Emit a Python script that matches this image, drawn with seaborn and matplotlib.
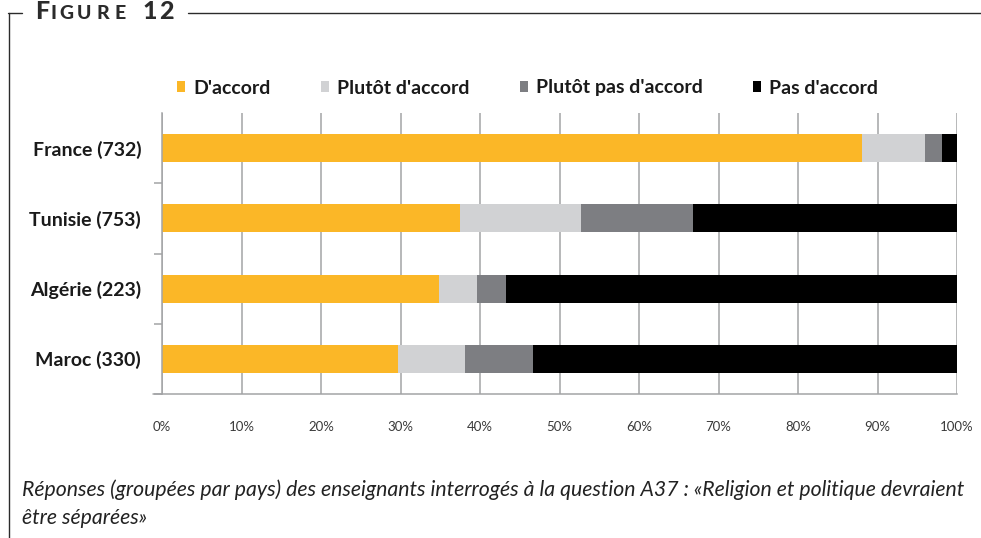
import matplotlib
matplotlib.use("Agg")
import matplotlib.pyplot as plt
from matplotlib.patches import Patch
from matplotlib.lines import Line2D
from matplotlib.ticker import FixedLocator, FuncFormatter
import numpy as np
import pandas as pd
import seaborn as sns

# Responses per country (percent of teachers), question A37
countries = ["France (732)", "Tunisie (753)", "Algérie (223)", "Maroc (330)"]
d_accord = [88.1, 37.5, 34.9, 29.7]
plutot_accord = [7.9, 15.2, 4.7, 8.4]
plutot_pas_accord = [2.1, 14.1, 3.7, 8.6]
pas_accord = [1.9, 33.2, 56.7, 53.3]

series_names = ["D'accord", "Plutôt d'accord", "Plutôt pas d'accord", "Pas d'accord"]
series_colors = ["#FBB727", "#D1D2D4", "#7D7E82", "#000000"]
x_ticks = [0, 10, 20, 30, 40, 50, 60, 70, 80, 90, 100]

caption_1 = ("Réponses (groupées par pays) des enseignants interrogés à la question A37 : "
             "«Religion et politique devraient")
caption_2 = "être séparées»"

sns.set_theme(style="white")
plt.rcParams["font.family"] = ["Lato", "DejaVu Sans"]

df = pd.DataFrame({
    "pays": countries,
    series_names[0]: d_accord,
    series_names[1]: plutot_accord,
    series_names[2]: plutot_pas_accord,
    series_names[3]: pas_accord,
})
cum = df[series_names].cumsum(axis=1)

W, H = 981, 538
fig = plt.figure(figsize=(W / 100, H / 100), dpi=100)
ax = fig.add_axes([162 / W, 1 - 394 / H, 795 / W, (394 - 113) / H])

grid_col = "#A3A4A6"
ax.set_axisbelow(True)
ax.xaxis.grid(True, color=grid_col, linewidth=1.1)

# stacked bars: draw cumulative totals from the outermost segment inward
for name, col in reversed(list(zip(series_names, series_colors))):
    sns.barplot(x=cum[name], y=df["pays"], orient="h", color=col, width=0.4,
                errorbar=None, saturation=1, linewidth=0, ax=ax, zorder=3)

ax.set_xlim(0, 100)
ax.set_ylim(len(countries) - 0.5, -0.5)
ax.set_xlabel("")
ax.set_ylabel("")

ax.xaxis.set_major_locator(FixedLocator(x_ticks))
ax.xaxis.set_major_formatter(FuncFormatter(lambda v, p: f"{int(round(v))}%"))
ax.tick_params(axis="x", which="major", direction="out", length=4.5, width=1.1,
               color=grid_col, pad=15, labelsize=9.5, labelcolor="#3a3a3a")

# category labels on minor ticks, boundary ticks on major ticks
ax.yaxis.set_major_locator(FixedLocator(np.arange(0.5, len(countries), 1.0)))
ax.yaxis.set_major_formatter(FuncFormatter(lambda v, p: ""))
ax.yaxis.set_minor_locator(FixedLocator(np.arange(len(countries))))
ax.set_yticklabels(countries, minor=True)
ax.tick_params(axis="y", which="major", direction="out", length=6, width=1.1,
               color=grid_col, left=True)
ax.tick_params(axis="y", which="minor", length=0, pad=15, labelsize=14,
               labelcolor="#1a1a1a")
for t in ax.get_yticklabels(minor=True):
    t.set_fontweight("bold")

for s in ["top", "right"]:
    ax.spines[s].set_visible(False)
for s in ["left", "bottom"]:
    ax.spines[s].set_color(grid_col)
    ax.spines[s].set_linewidth(1.1)
    ax.spines[s].set_zorder(4)
# bottom boundary tick of the category axis
ax.plot([-0.011, 0], [len(countries) - 0.5] * 2, transform=ax.get_yaxis_transform(),
        color=grid_col, linewidth=1.1, clip_on=False)

handles = [Patch(facecolor=c, edgecolor="none", label=n)
           for n, c in zip(series_names, series_colors)]
leg = fig.legend(handles=handles, loc="center left",
                 bbox_to_anchor=(177 / W, 1 - 88 / H), ncol=4, frameon=False,
                 handlelength=0.42, handleheight=0.55, handletextpad=0.4,
                 columnspacing=2.6, borderaxespad=0, borderpad=0,
                 prop={"weight": "bold", "size": 14})
for t in leg.get_texts():
    t.set_color("#1a1a1a")

# caption
fig.text(22 / W, 1 - 496 / H, caption_1, fontsize=15.3, style="italic",
         color="#222222", va="baseline", ha="left")
fig.text(22 / W, 1 - 524 / H, caption_2, fontsize=15.3, style="italic",
         color="#222222", va="baseline", ha="left")

# frame title, spaced small caps
frame_col = "#2b2b2b"
title_chars = [("F", 35, 18), ("I", 50, 14), ("G", 59, 14), ("U", 77, 14),
               ("R", 96, 14), ("E", 115, 14), ("1", 142, 18), ("2", 159, 18)]
for ch, px, size in title_chars:
    fig.text(px / W, 1 - 19 / H, ch, fontsize=size, fontweight="black",
             color=frame_col, ha="left", va="baseline")

# frame lines
fig.add_artist(Line2D([188 / W, 1.0], [1 - 13 / H, 1 - 13 / H],
                      transform=fig.transFigure, color=frame_col, linewidth=1.0))
fig.add_artist(Line2D([8 / W, 22 / W], [1 - 13 / H, 1 - 13 / H],
                      transform=fig.transFigure, color=frame_col, linewidth=1.0))
fig.add_artist(Line2D([9 / W, 9 / W], [1 - 13 / H, 0.0],
                      transform=fig.transFigure, color=frame_col, linewidth=1.0))

fig.savefig("out.png", dpi=100)
